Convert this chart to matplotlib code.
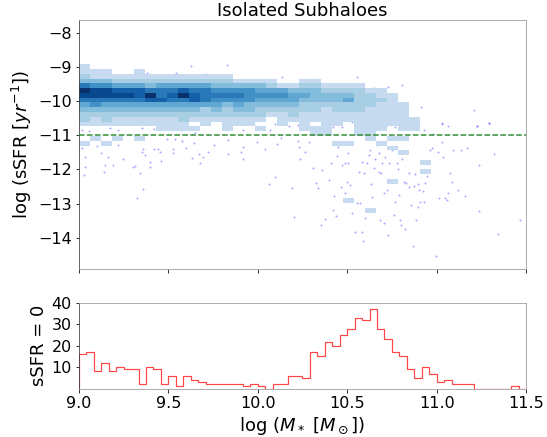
import numpy as np
import matplotlib
matplotlib.use('Agg')
import matplotlib.pyplot as plt

# ---------------------------------------------------------------
# data
# ---------------------------------------------------------------

# 2D histogram of log sSFR vs log M*, shade level per cell (0 = empty)
# rows run from the top (log sSFR = -8.92) downwards in steps of 0.14,
# columns from log M* = 9.0 in steps of 0.0615
density_rows = [
    "10000000000000000000000000000000",
    "11100100000000000000000000000000",
    "21111111111111000000000000000000",
    "33322222222222111100110000000000",
    "65544434444433333211221111000000",
    "98877766676655554443332222110000",
    "88888796797666655554433332211000",
    "66666677667655554444333342221000",
    "45444444444443433333222222211100",
    "33333333333232332222221222111100",
    "22222222222222222112111111111100",
    "21211111121111111011111111111110",
    "11111111110101110010101101111110",
    "00000001111001001000111001110110",
    "00000000000000000000011001100000",
    "01010100000000000000000000101100",
    "10100000000000000000000110010000",
    "00000000000000000000000000001000",
    "00000000000000000000000000000100",
    "00000000000000000000000000000000",
    "00000000000000000000000000000001",
    "00000000000000000000000000000000",
    "00000000000000000000000000000001",
    "00000000000000000000000000000000",
    "00000000000000000000000000001000",
    "00000000000000000000000000000000",
    "00000000000000000000000000000000",
    "00000000000000000000000000000000",
    "00000000000000000000000010000000",
    "00000000000000000000000000000000",
    "00000000000000000000000000100000",
]
mass_bin0, mass_step = 9.0, 0.0615
ssfr_bin0, ssfr_step = -8.92, 0.14

# individual subhaloes outside the dense region
outlier_mass = [
    9.015, 9.034, 9.034, 9.030, 9.099, 9.124, 9.146, 9.165, 9.142, 9.193,
    9.217, 9.245, 9.301, 9.314, 9.327, 9.342, 9.351, 9.357, 9.360, 9.370,
    9.398, 9.400, 9.422, 9.440, 9.459, 9.454, 9.491, 9.524, 9.528, 9.537,
    9.575, 9.599, 9.631, 9.646, 9.674, 9.677, 9.696, 9.720, 9.757, 9.832,
    9.836, 9.905, 9.920, 9.918, 9.994, 10.041, 10.065, 10.097, 10.106, 10.130,
    10.194, 10.201, 10.224, 10.231, 10.237, 10.264, 10.289, 10.307, 10.324, 10.339,
    10.354, 10.358, 10.376, 10.399, 10.410, 10.423, 10.427, 10.436, 10.442, 10.451,
    10.464, 10.470, 10.485, 10.488, 10.498, 10.503, 10.507, 10.516, 10.526, 10.541,
    10.554, 10.567, 10.572, 10.582, 10.585, 10.591, 10.596, 10.600, 10.609, 10.619,
    10.628, 10.634, 10.638, 10.647, 10.656, 10.665, 10.675, 10.678, 10.684, 10.688,
    10.693, 10.703, 10.708, 10.712, 10.721, 10.727, 10.736, 10.749, 10.762, 10.768,
    10.777, 10.783, 10.787, 10.796, 10.800, 10.805, 10.815, 10.824, 10.828, 10.843,
    10.848, 10.858, 10.865, 10.874, 10.880, 10.884, 10.893, 10.898, 10.904, 10.908,
    10.926, 10.932, 10.936, 10.945, 10.964, 10.973, 10.995, 11.007, 11.014, 11.029,
    11.038, 11.044, 11.057, 11.066, 11.076, 11.085, 11.091, 11.119, 11.137, 11.160,
    11.169, 11.234, 11.238, 11.318, 11.342, 11.467,
    # just above the cut
    9.398, 9.420, 9.579, 9.649, 9.827, 9.864, 9.920, 10.023, 10.069, 10.097,
    10.172, 10.224, 10.283, 10.320, 10.423, 10.470, 10.526, 10.656, 10.721, 10.768,
    10.815, 10.843, 10.889, 10.932, 10.982, 11.029, 11.066, 11.225, 11.290,
    9.015, 9.057, 9.174, 9.217, 9.351,
    # upper envelope
    9.174, 9.379, 9.491, 9.541, 9.627, 9.826, 9.711, 10.136, 10.313,
    10.554, 10.650, 10.730, 10.805, 10.912, 11.206, 11.293, 10.457, 10.796,
    11.029, 11.225,
]
outlier_ssfr = [
    -11.381, -11.625, -11.918, -12.161, -11.313, -11.528, -11.869, -11.645, -12.064, -11.869,
    -11.284, -11.693, -11.918, -11.888, -12.824, -12.112, -11.479, -11.411, -12.580, -11.576,
    -11.937, -11.791, -11.411, -11.411, -11.742, -11.479, -11.118, -11.411, -11.528, -11.118,
    -11.157, -11.381, -11.674, -11.235, -11.547, -11.820, -11.645, -11.479, -11.284, -11.138,
    -11.547, -11.498, -11.352, -11.693, -11.187, -11.391, -12.424, -12.229, -11.255, -11.089,
    -12.551, -13.380, -11.157, -11.333, -11.703, -11.489, -11.187, -11.966, -12.385, -12.551,
    -13.623, -12.015, -13.438, -12.307, -11.820, -13.185, -12.775, -13.360, -11.606, -11.333,
    -12.522, -11.869, -11.801, -12.697, -12.376, -11.801, -11.508, -12.454, -13.282, -13.838,
    -12.990, -12.064, -12.990, -11.771, -13.838, -14.081, -12.112, -13.428, -11.820, -11.576,
    -11.430, -12.424, -12.814, -11.966, -11.703, -11.284, -11.528, -12.064, -13.477, -12.093,
    -11.820, -13.574, -12.678, -11.625, -12.600, -13.916, -11.801, -11.430, -13.331, -12.941,
    -11.820, -11.995, -12.746, -13.477, -13.623, -11.703, -12.356, -13.750, -12.385, -12.502,
    -12.112, -13.038, -14.237, -12.483, -12.132, -13.477, -12.424, -13.107, -12.600, -12.941,
    -12.619, -12.941, -12.405, -12.190, -11.430, -11.381, -14.530, -11.479, -12.843, -11.187,
    -11.645, -12.843, -12.892, -12.697, -12.112, -12.356, -11.430, -12.600, -11.430, -12.775,
    -11.381, -11.869, -13.214, -11.547, -13.887, -13.477,
    -10.631, -10.826, -10.845, -10.943, -10.670, -10.670, -10.845, -10.767, -10.845, -10.670,
    -10.728, -10.699, -10.826, -10.943, -10.748, -10.767, -10.602, -10.826, -10.699, -10.748,
    -10.670, -10.826, -10.767, -10.845, -10.962, -10.670, -10.728, -10.728, -10.631,
    -10.845, -10.874, -10.796, -10.845, -10.796,
    -9.139, -9.168, -9.266, -9.168, -8.973, -8.934, -9.207, -9.305, -9.363,
    -9.305, -9.626, -9.578, -9.529, -10.163, -10.260, -10.630, -10.552, -10.601,
    -10.650, -10.728,
]

# subhaloes with sSFR = 0, counts per bin of log M* (60 bins, 9.0 - 11.5)
sfr0_range = (9.0, 11.5)
sfr0_counts = [16, 17, 8, 12, 8, 10, 9, 9, 2, 10,
               9, 2, 6, 1, 6, 4, 3, 2, 2, 2,
               2, 2, 1, 2, 1, 0, 2, 2, 6, 6,
               5, 17, 15, 22, 20, 25, 28, 33, 32, 37,
               28, 23, 17, 15, 9, 5, 10, 7, 3, 4,
               2, 2, 2, 0, 0, 0, 0, 0, 1, 0]

ssfr_cut = -11.0

# ---------------------------------------------------------------
# plot
# ---------------------------------------------------------------

grid = np.array([[int(c) for c in row] for row in density_rows], dtype=float)
mass_edges = mass_bin0 + mass_step * np.arange(grid.shape[1] + 1)
ssfr_edges = ssfr_bin0 - ssfr_step * np.arange(grid.shape[0] + 1)
sfr0_edges = np.linspace(sfr0_range[0], sfr0_range[1], len(sfr0_counts) + 1)

fig = plt.figure(figsize=(547 / 72, 437 / 72), dpi=72)
ax1 = fig.add_axes([0.1442, 0.3844, 0.8176, 0.5698])
ax2 = fig.add_axes([0.1442, 0.1108, 0.8176, 0.1958])

# top panel: outliers + density
ax1.scatter(outlier_mass, outlier_ssfr, s=4, c='#4040ff', alpha=0.45,
            linewidths=0, zorder=1)
ax1.pcolormesh(mass_edges, ssfr_edges, np.ma.masked_equal(grid, 0),
               cmap='Blues', vmin=-1.667, vmax=9, zorder=2)
ax1.axhline(ssfr_cut, color='#2e8b2e', linestyle='--', lw=1.5, zorder=3)

ax1.set_xlim(9.0, 11.5)
ax1.set_ylim(-14.91, -7.63)
ax1.set_xticks([9.0, 9.5, 10.0, 10.5, 11.0, 11.5])
ax1.set_xticklabels([])
ax1.set_yticks([-14, -13, -12, -11, -10, -9, -8])
ax1.tick_params(labelsize=16)
ax1.set_ylabel(r'log (sSFR [$yr^{-1}$])', fontsize=18)
ax1.set_title('Isolated Subhaloes', fontsize=18, pad=2)

# bottom panel: sSFR = 0 counts
ax2.stairs(sfr0_counts, sfr0_edges, color='#ff4545', lw=1.2)
ax2.set_xlim(9.0, 11.5)
ax2.set_ylim(0, 40)
ax2.set_yticks([10, 20, 30, 40])
ax2.set_xticks([9.0, 9.5, 10.0, 10.5, 11.0, 11.5])
ax2.tick_params(labelsize=16)
ax2.set_ylabel('sSFR = 0', fontsize=18)
ax2.set_xlabel(r'log ($M_*$ [$M_\odot$])', fontsize=18)

for ax in (ax1, ax2):
    for side in ('top', 'right', 'bottom'):
        ax.spines[side].set_color('0.6')
    ax.spines['left'].set_color('0.25')

fig.savefig('out.png', dpi=72)
